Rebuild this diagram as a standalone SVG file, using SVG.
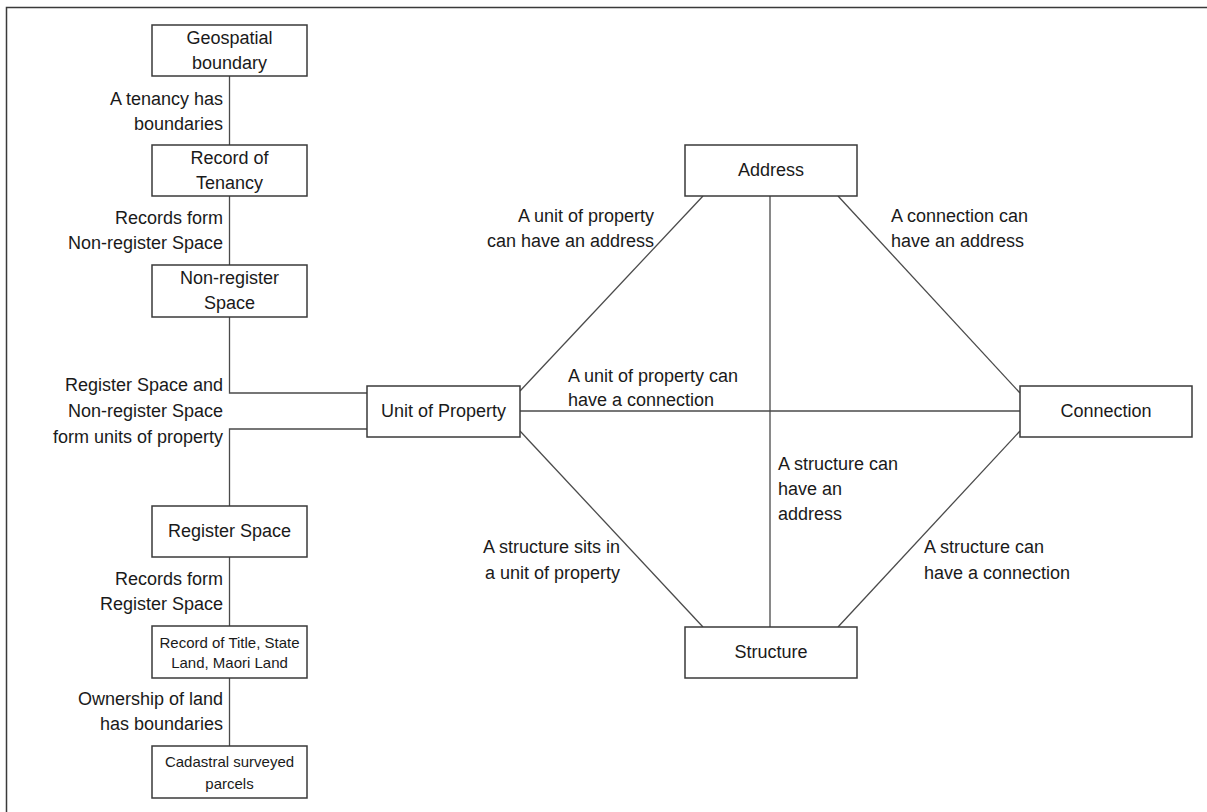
<svg xmlns="http://www.w3.org/2000/svg" width="1207" height="812" viewBox="0 0 1207 812">
<style>
.box{fill:#fff;stroke:#3a3a3a;stroke-width:1.5}
.ln{stroke:#4a4a4a;stroke-width:1.3;fill:none}
text{font-family:"Liberation Sans",Arial,sans-serif;font-size:18px;fill:#1a1a1a}
.c{text-anchor:middle}
.r{text-anchor:end}
.s{font-size:15px}
</style>
<rect width="1207" height="812" fill="#fff"/>
<path d="M6.5 812 V7.5 H1207" stroke="#3a3a3a" stroke-width="1.5" fill="none"/>
<g id="connectors">
<line class="ln" x1="229.5" y1="76" x2="229.5" y2="145"/>
<line class="ln" x1="229.5" y1="196" x2="229.5" y2="265"/>
<polyline class="ln" points="229.5,317 229.5,393 367,393"/>
<polyline class="ln" points="229.5,506 229.5,429 367,429"/>
<line class="ln" x1="229.5" y1="557" x2="229.5" y2="626"/>
<line class="ln" x1="229.5" y1="678" x2="229.5" y2="746"/>
<line class="ln" x1="520" y1="391" x2="703" y2="196"/>
<line class="ln" x1="520" y1="411" x2="1020" y2="411"/>
<line class="ln" x1="520" y1="431" x2="703" y2="627"/>
<line class="ln" x1="770" y1="196" x2="770" y2="627"/>
<line class="ln" x1="838" y1="196" x2="1020" y2="393"/>
<line class="ln" x1="1020" y1="431" x2="838" y2="627"/>
<text class="r" x="223" y="105">A tenancy has</text>
<text class="r" x="223" y="130">boundaries</text>
<text class="r" x="223" y="224">Records form</text>
<text class="r" x="223" y="249">Non-register Space</text>
<text class="r" x="223" y="391">Register Space and</text>
<text class="r" x="223" y="417">Non-register Space</text>
<text class="r" x="223" y="443">form units of property</text>
<text class="r" x="223" y="585">Records form</text>
<text class="r" x="223" y="610">Register Space</text>
<text class="r" x="223" y="705">Ownership of land</text>
<text class="r" x="223" y="730">has boundaries</text>
<text class="r" x="654" y="222">A unit of property</text>
<text class="r" x="654" y="247">can have an address</text>
<text x="891" y="222">A connection can</text>
<text x="891" y="247">have an address</text>
<text x="568" y="382">A unit of property can</text>
<text x="568" y="406">have a connection</text>
<text x="778" y="470">A structure can</text>
<text x="778" y="495">have an</text>
<text x="778" y="520">address</text>
<text class="r" x="620" y="553">A structure sits in</text>
<text class="r" x="620" y="579">a unit of property</text>
<text x="924" y="553">A structure can</text>
<text x="924" y="579">have a connection</text>
</g>
<g id="geospatial"><rect class="box" x="152" y="25" width="155" height="51"/><text class="c" x="229.5" y="44">Geospatial</text><text class="c" x="229.5" y="69">boundary</text></g>
<g id="record-tenancy"><rect class="box" x="152" y="145" width="155" height="51"/><text class="c" x="229.5" y="164">Record of</text><text class="c" x="229.5" y="189">Tenancy</text></g>
<g id="non-register"><rect class="box" x="152" y="265" width="155" height="52"/><text class="c" x="229.5" y="284">Non-register</text><text class="c" x="229.5" y="309">Space</text></g>
<g id="register"><rect class="box" x="152" y="506" width="155" height="51"/><text class="c" x="229.5" y="537">Register Space</text></g>
<g id="record-title"><rect class="box" x="152" y="626" width="155" height="52"/><text class="c s" x="229.5" y="648">Record of Title, State</text><text class="c s" x="229.5" y="668">Land, Maori Land</text></g>
<g id="cadastral"><rect class="box" x="152" y="746" width="155" height="52"/><text class="c s" x="229.5" y="767">Cadastral surveyed</text><text class="c s" x="229.5" y="789">parcels</text></g>
<g id="unit-of-property"><rect class="box" x="367" y="386" width="153" height="51"/><text class="c" x="443.5" y="417">Unit of Property</text></g>
<g id="address"><rect class="box" x="685" y="145" width="172" height="51"/><text class="c" x="771" y="176">Address</text></g>
<g id="connection"><rect class="box" x="1020" y="386" width="172" height="51"/><text class="c" x="1106" y="417">Connection</text></g>
<g id="structure"><rect class="box" x="685" y="627" width="172" height="51"/><text class="c" x="771" y="658">Structure</text></g>
</svg>
